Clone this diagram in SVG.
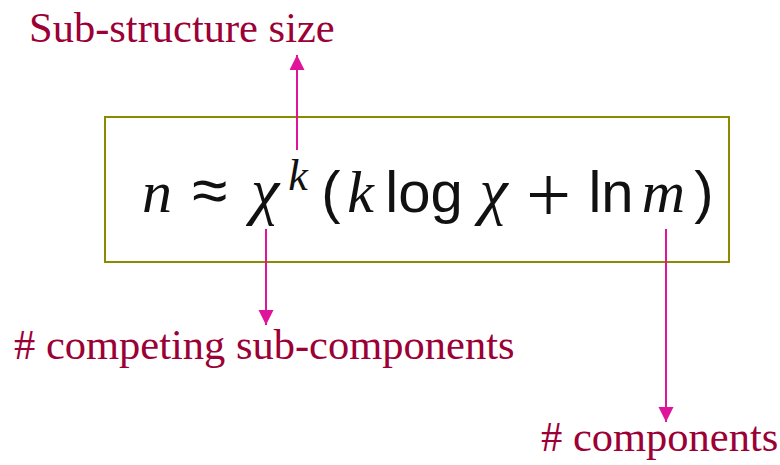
<svg xmlns="http://www.w3.org/2000/svg" width="780" height="465" viewBox="0 0 780 465">
<defs>
<style>
.lbl{font-family:"Liberation Serif","Times New Roman",serif;font-size:42.5px;fill:#9B0036}
.conn{stroke:#E0149B;stroke-width:2;fill:none}
.it{font-family:"Liberation Serif","Times New Roman",serif;font-style:italic;font-size:60px;fill:#111;text-anchor:middle}
.up{font-family:"Liberation Sans",Arial,sans-serif;font-size:58px;fill:#111;text-anchor:middle}
</style>
<marker id="ah" markerUnits="userSpaceOnUse" markerWidth="16" markerHeight="16" refX="15" refY="7.5" orient="auto">
<path d="M0,0 L15,7.5 L0,15 z" fill="#E0149B"/>
</marker>
</defs>
<rect width="780" height="465" fill="#fff"/>
<g id="formula">
<rect x="105" y="117" width="624" height="145" fill="#fff" stroke="#8B8B00" stroke-width="2"/>
<text class="it" x="157" y="212">n</text>
<text class="up" x="209.5" y="212" style="font-size:64px">≈</text>
<text class="it" x="265" y="212" style="font-size:64px">χ</text>
<text class="it" x="298" y="190" style="font-size:44px">k</text>
<text class="up" x="331" y="212">(</text>
<text class="it" x="360.5" y="212">k</text>
<text class="up" x="424" y="212">log</text>
<text class="it" x="493.5" y="212" style="font-size:64px">χ</text>
<text class="up" x="548.5" y="222" style="font-family:'Liberation Serif',serif;font-size:80px">+</text>
<text class="up" x="611" y="212">ln</text>
<text class="it" x="663.5" y="212">m</text>
<text class="up" x="704" y="212">)</text>
</g>
<g id="label-size"><text class="lbl" x="29" y="42">Sub-structure size</text></g>
<g id="label-sub"><text class="lbl" x="14" y="359"># competing sub-components</text></g>
<g id="label-comp"><text class="lbl" x="541" y="451"># components</text></g>
<g id="connectors">
<line class="conn" x1="297" y1="150" x2="297" y2="55" marker-end="url(#ah)"/>
<line class="conn" x1="266" y1="229" x2="266" y2="325" marker-end="url(#ah)"/>
<line class="conn" x1="666" y1="229" x2="666" y2="422" marker-end="url(#ah)"/>
</g>
</svg>
